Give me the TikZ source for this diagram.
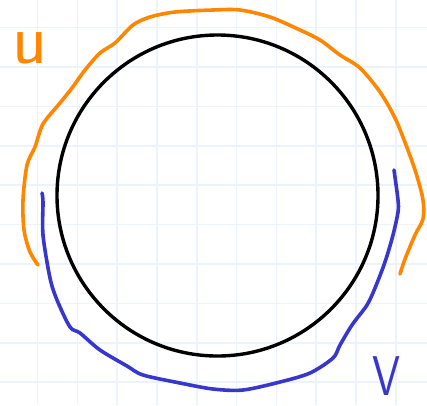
\documentclass[tikz,border=0pt]{standalone}
\definecolor{gridc}{RGB}{236,243,253}
\definecolor{orng}{RGB}{255,135,0}
\definecolor{blu}{RGB}{55,55,205}
\begin{document}
\begin{tikzpicture}[x=1pt,y=-1pt,
  gridline/.style={gridc,line width=1.6pt},
  stroke/.style={line width=3.6pt,line cap=round,line join=round},
  lbl/.style={inner sep=0pt}]
\useasboundingbox[fill=white] (0,0) rectangle (427,405);
\foreach \i in {0,...,9} {
  \draw[gridline] ({37.6+39.8*\i},0) -- ({37.6+39.8*\i},405);
  \draw[gridline] (0,{27.5+39.4*\i}) -- (427,{27.5+39.4*\i});
}
\node[circle,draw=black,line width=3.4pt,minimum size=321pt,inner sep=0pt] (c) at (217.5,195.5) {};
\draw[stroke,orng] plot[smooth,tension=0.5] coordinates {(38,265) (30,252) (24,230) (23,200) (27,165) (35,147) (43,124) (60,103) (72,88) (85,70) (100,53) (115,43) (133,25) (150,17) (175,12) (213,10) (240,10) (270,17) (300,30) (320,40) (340,55) (360,68) (380,92) (395,118) (406,145) (416,173) (423,200) (423,219) (415,235) (405,259) (400,274)};
\draw[stroke,blu] plot[smooth,tension=0.5] coordinates {(394,170) (398,200) (398,212) (393,235) (385,262) (375,288) (367,305) (352,325) (340,345) (333,358) (310,373) (280,382) (243,390) (213,389) (180,383) (143,375) (127,366) (100,350) (80,333) (70,327) (57,300) (50,278) (43,235) (43,202) (42,193)};
\node[lbl,text=orng,font=\sffamily\fontsize{72}{72}\selectfont] (u) at (30,48) {u};
\node[lbl,text=blu,font=\sffamily\fontsize{56}{56}\selectfont,xscale=0.8] (v) at (386,376) {V};
\end{tikzpicture}
\end{document}
